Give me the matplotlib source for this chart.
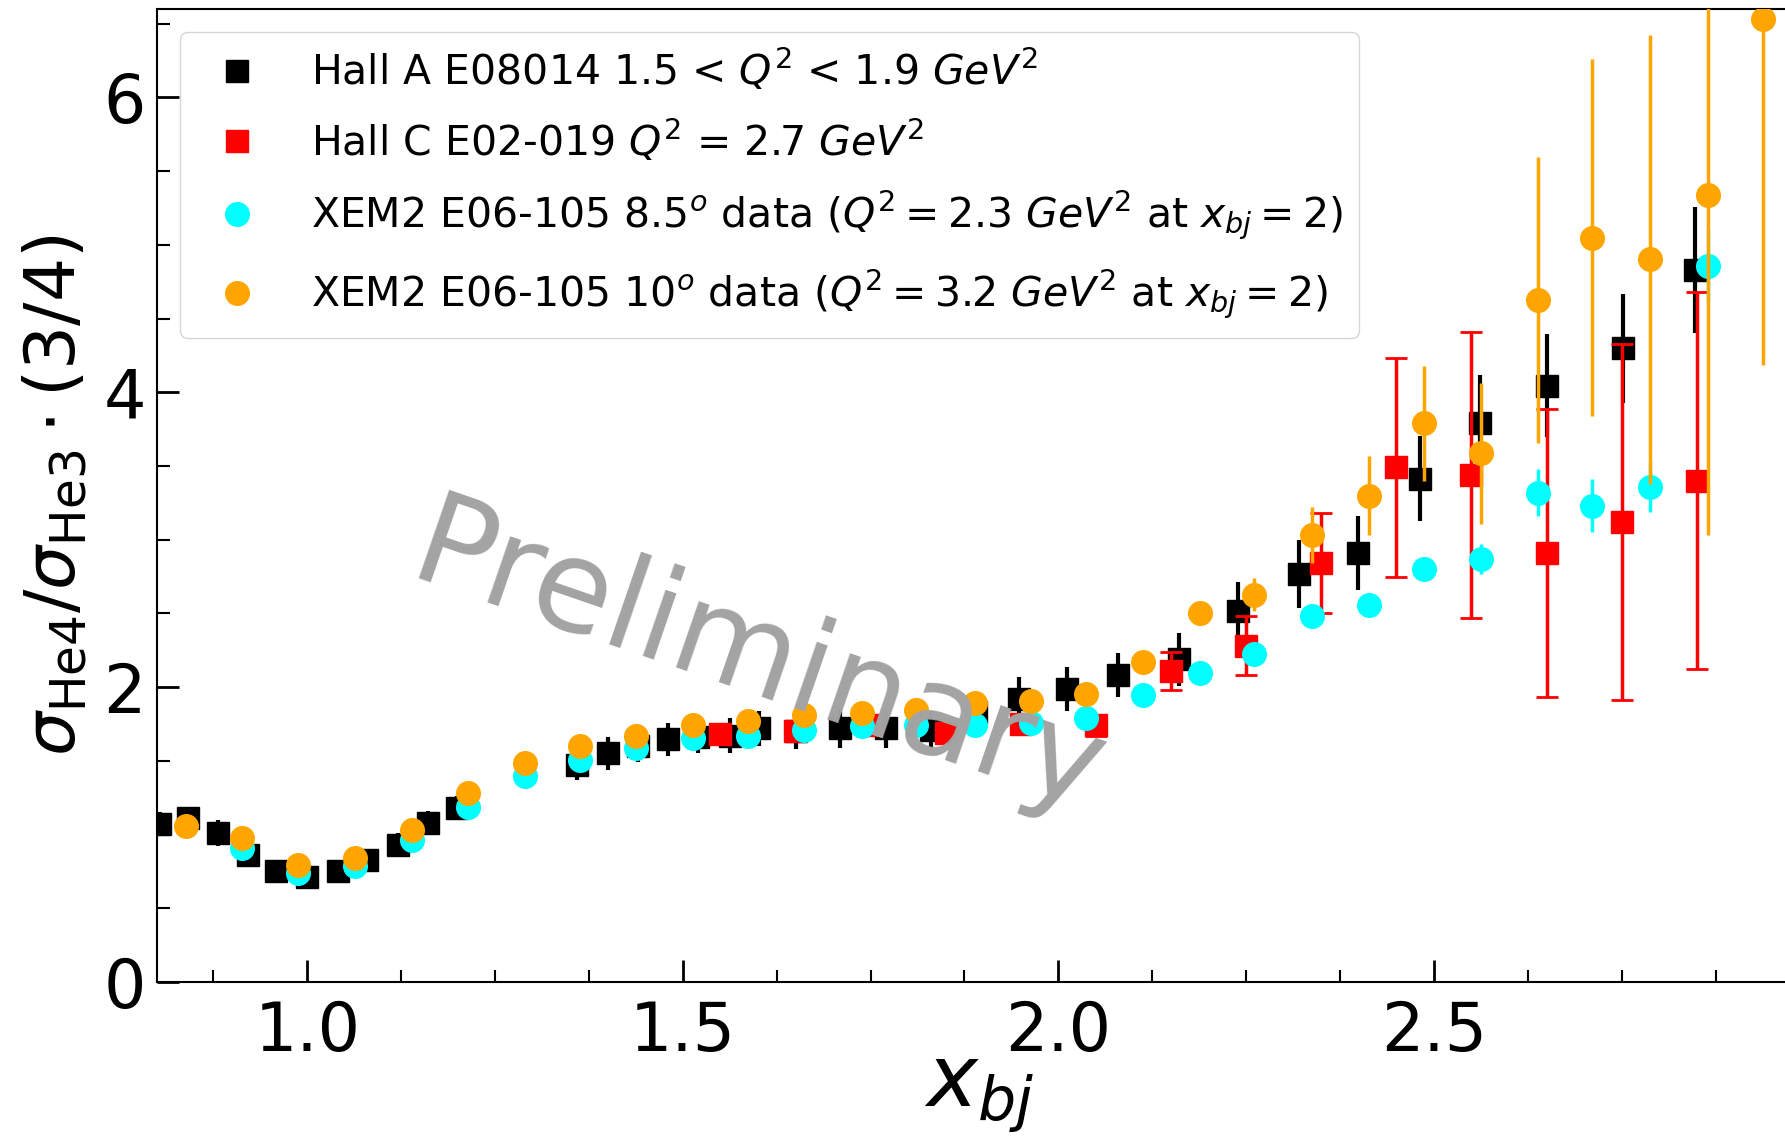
import matplotlib
matplotlib.use("Agg")
import matplotlib.pyplot as plt
from matplotlib.ticker import MultipleLocator
from matplotlib.lines import Line2D

# Hall A E08014 (black squares)
hallA_x = [0.804, 0.841, 0.881, 0.921, 0.959, 1.000, 1.041, 1.080, 1.121, 1.161, 1.200,
           1.359, 1.400, 1.441, 1.480, 1.520, 1.563, 1.602, 1.651, 1.709, 1.771, 1.831,
           1.890, 1.948, 2.011, 2.079, 2.161, 2.239, 2.321, 2.399, 2.481, 2.561, 2.650,
           2.752, 2.848]
hallA_y = [1.07, 1.11, 1.01, 0.86, 0.75, 0.71, 0.75, 0.83, 0.93, 1.08, 1.18,
           1.47, 1.55, 1.60, 1.645, 1.66, 1.67, 1.72, 1.70, 1.72, 1.72, 1.71,
           1.83, 1.92, 1.99, 2.085, 2.19, 2.515, 2.77, 2.91, 3.415, 3.79, 4.045,
           4.30, 4.83]
hallA_err = [0.08, 0.08, 0.09, 0.08, 0.07, 0.07, 0.07, 0.07, 0.08, 0.08, 0.08,
             0.10, 0.11, 0.11, 0.11, 0.11, 0.12, 0.12, 0.12, 0.13, 0.13, 0.13,
             0.14, 0.15, 0.15, 0.15, 0.18, 0.20, 0.23, 0.25, 0.29, 0.33, 0.35,
             0.37, 0.43]

# Hall C E02-019 (red squares)
hallC_x = [1.55, 1.65, 1.75, 1.85, 1.95, 2.05, 2.15, 2.25, 2.35, 2.45, 2.55, 2.65, 2.75, 2.85]
hallC_y = [1.68, 1.70, 1.74, 1.69, 1.75, 1.74, 2.11, 2.28, 2.84, 3.49, 3.44, 2.91, 3.12, 3.40]
hallC_err = [0.04, 0.04, 0.05, 0.05, 0.06, 0.07, 0.13, 0.20, 0.34, 0.74, 0.97, 0.98, 1.21, 1.28]

# XEM2 E06-105 8.5 deg (cyan circles)
xem85_x = [0.913, 0.988, 1.063, 1.139, 1.214, 1.290, 1.363, 1.438, 1.514, 1.587, 1.662,
           1.738, 1.811, 1.889, 1.964, 2.037, 2.113, 2.188, 2.261, 2.338, 2.413, 2.487,
           2.563, 2.638, 2.711, 2.788, 2.865]
xem85_y = [0.91, 0.74, 0.785, 0.966, 1.19, 1.395, 1.509, 1.588, 1.656, 1.667, 1.712,
           1.735, 1.746, 1.746, 1.758, 1.792, 1.95, 2.097, 2.228, 2.481, 2.554, 2.80,
           2.87, 3.318, 3.232, 3.359, 4.86]
xem85_err = [0.02, 0.02, 0.02, 0.02, 0.02, 0.02, 0.03, 0.03, 0.03, 0.03, 0.03,
             0.03, 0.03, 0.03, 0.03, 0.03, 0.04, 0.04, 0.05, 0.05, 0.06, 0.07,
             0.10, 0.16, 0.18, 0.17, 0.25]

# XEM2 E06-105 10 deg (orange circles)
xem10_x = [0.839, 0.913, 0.988, 1.063, 1.139, 1.214, 1.290, 1.363, 1.438, 1.514, 1.587,
           1.662, 1.738, 1.811, 1.889, 1.964, 2.037, 2.113, 2.188, 2.261, 2.338, 2.413,
           2.487, 2.563, 2.638, 2.711, 2.788, 2.865, 2.938]
xem10_y = [1.056, 0.977, 0.796, 0.842, 1.034, 1.283, 1.486, 1.599, 1.667, 1.746, 1.769,
           1.814, 1.826, 1.848, 1.893, 1.905, 1.955, 2.169, 2.504, 2.628, 3.03, 3.30,
           3.789, 3.585, 4.629, 5.048, 4.901, 5.335, 6.534]
xem10_err = [0.02, 0.02, 0.02, 0.02, 0.02, 0.02, 0.02, 0.03, 0.03, 0.03, 0.03,
             0.03, 0.04, 0.04, 0.05, 0.05, 0.06, 0.07, 0.08, 0.11, 0.19, 0.27,
             0.39, 0.48, 0.97, 1.21, 1.52, 2.30, 2.35]

labels = [
    r'Hall A E08014 1.5 < $Q^2$ < 1.9 $GeV^2$',
    r'Hall C E02-019 $Q^2$ = 2.7 $GeV^2$',
    r'XEM2 E06-105 8.5$^o$ data ($Q^2 = 2.3\ GeV^2$ at $x_{bj} = 2$)',
    r'XEM2 E06-105 10$^o$ data ($Q^2 = 3.2\ GeV^2$ at $x_{bj} = 2$)',
]

fig = plt.figure(figsize=(17.85, 11.38), dpi=100)
# right side of the axes runs past the figure edge, like the cropped original
ax = fig.add_axes([157 / 1785, 156 / 1138, 1645 / 1785, 973 / 1138])

ax.errorbar(hallA_x, hallA_y, yerr=hallA_err, fmt='s', color='black', ms=16,
            elinewidth=3, capsize=0, zorder=2)
ax.errorbar(hallC_x, hallC_y, yerr=hallC_err, fmt='s', color='red', ms=16,
            elinewidth=2.5, capsize=8, capthick=2, zorder=3)
ax.errorbar(xem85_x, xem85_y, yerr=xem85_err, fmt='o', color='cyan', ms=17,
            elinewidth=2.5, capsize=0, zorder=4)
ax.errorbar(xem10_x, xem10_y, yerr=xem10_err, fmt='o', color='orange', ms=17,
            elinewidth=2.5, capsize=0, zorder=5)

ax.set_xlim(0.8, 2.99)
ax.set_ylim(0, 6.6)

ax.xaxis.set_major_locator(MultipleLocator(0.5))
ax.xaxis.set_minor_locator(MultipleLocator(0.125))
ax.yaxis.set_major_locator(MultipleLocator(2))
ax.yaxis.set_minor_locator(MultipleLocator(0.5))
ax.tick_params(which='both', direction='in')
ax.tick_params(which='major', length=16, width=2, labelsize=48)
ax.tick_params(which='minor', length=9, width=1.5)
ax.tick_params(axis='x', which='major', pad=12)
ax.tick_params(axis='y', which='major', pad=8)
for s in ax.spines.values():
    s.set_linewidth(1.5)

ax.set_xlabel(r'$x_{bj}$', fontsize=62, labelpad=-10)
ax.set_ylabel(r'$\sigma_{\mathrm{He4}}/\sigma_{\mathrm{He3}}\cdot(3/4)$', fontsize=50, labelpad=10)

handles = [
    Line2D([], [], marker='s', color='black', linestyle='none', markersize=16),
    Line2D([], [], marker='s', color='red', linestyle='none', markersize=16),
    Line2D([], [], marker='o', color='cyan', linestyle='none', markersize=17),
    Line2D([], [], marker='o', color='orange', linestyle='none', markersize=17),
]
ax.legend(handles, labels, loc='upper left', fontsize=29.5, labelspacing=0.6,
          borderaxespad=0.55)

# watermark
fig.text(758 / 1785, 1 - 662 / 1138, 'Preliminary', fontsize=92, color='#a3a3a3',
         rotation=-19, ha='center', va='center', rotation_mode='anchor', zorder=10)

fig.savefig('out.png', dpi=100)
